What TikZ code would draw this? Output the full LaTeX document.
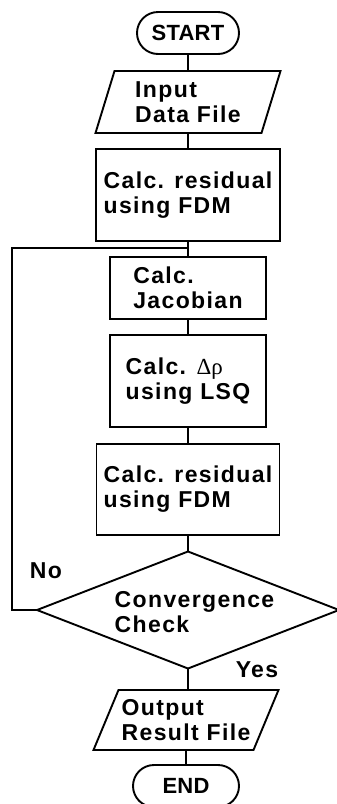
\documentclass[tikz,border=0pt]{standalone}
\usepackage{fontspec}
\setmainfont{Liberation Sans}[LetterSpace=6]
\newfontfamily\capsfont{Liberation Sans}[LetterSpace=1]
\newfontfamily\grkfont{Liberation Serif}
\usetikzlibrary{shapes.geometric,calc}
\tikzset{
  base/.style={font=\bfseries\fontsize{23}{25}\selectfont, line width=1.9pt, inner sep=0pt, outer sep=0pt},
  proc/.style={base, draw, rectangle, align=left},
  term/.style={base, draw, rectangle, rounded corners=21pt, minimum height=42pt, font=\capsfont\bfseries\fontsize{22}{25}\selectfont},
  io/.style={base, align=left},
  link/.style={line width=1.9pt},
}
\begin{document}
\begin{tikzpicture}[x=1pt,y=-1pt]
\useasboundingbox (0,0) rectangle (337,804);
\node[term, minimum width=102pt] (start) at (188,33) {START};
\node[io, minimum width=166pt, minimum height=62pt] (input) at (188,102) {Input\\Data File};
\draw[link] ($(input.north west)+(9.5,0)$) -- ($(input.north east)+(9.5,0)$) -- ($(input.south east)+(-9.5,0)$) -- ($(input.south west)+(-9.5,0)$) -- cycle;
\node[proc, minimum width=184pt, minimum height=92pt] (res1) at (188,195) {Calc. residual\\using FDM};
\node[proc, minimum width=156pt, minimum height=62pt] (jac) at (188,288) {Calc.\\Jacobian};
\node[proc, minimum width=156pt, minimum height=92pt] (lsq) at (188,381) {Calc. {\grkfont\mdseries Δρ}\\using LSQ};
\node[proc, minimum width=183pt, minimum height=91pt] (res2) at (188,489.5) {Calc. residual\\using FDM};
\node[base, draw, diamond, minimum width=302pt, minimum height=117pt] (conv) at (188,610) {};
\node[base, align=left] (convtext) at (194.5,612) {Convergence\\Check};
\node[io, minimum width=160pt, minimum height=60pt] (output) at (186,720) {Output\\Result File};
\draw[link] ($(output.north west)+(12.5,0)$) -- ($(output.north east)+(12.5,0)$) -- ($(output.south east)+(-12.5,0)$) -- ($(output.south west)+(-12.5,0)$) -- cycle;
\node[term, minimum width=106pt] (end) at (186,786) {END};
\node[base] (no) at (46,571) {No};
\node[base] (yes) at (257,670) {Yes};
\coordinate (lc) at (12,248);
\coordinate (lj) at (188,248);
\draw[link] (start.south) -- (input.north);
\draw[link] (input.south) -- (res1.north);
\draw[link] (res1.south) -- (jac.north);
\draw[link] (jac.south) -- (lsq.north);
\draw[link] (lsq.south) -- (res2.north);
\draw[link] (res2.south) -- (conv.north);
\draw[link] (conv.south) -- (conv.south |- output.north);
\draw[link] (output.south) -- (end.north);
\draw[link] (conv.west) -| (lc) -- (lj);
\end{tikzpicture}
\end{document}
